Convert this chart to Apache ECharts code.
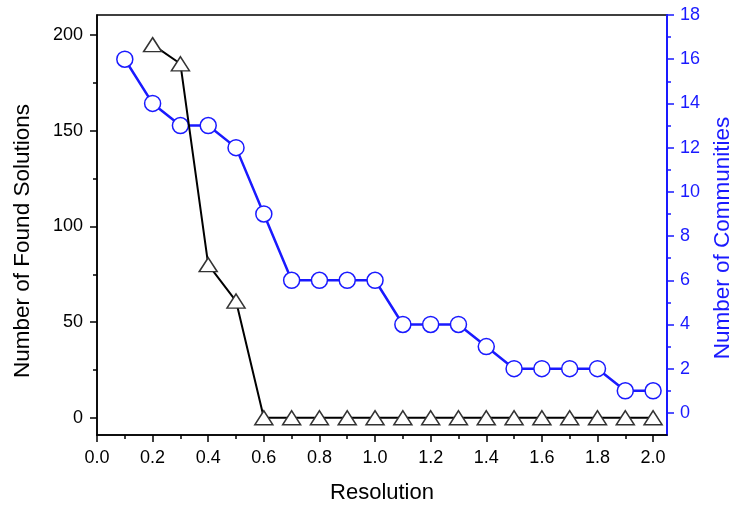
<!DOCTYPE html>
<html>
<head>
<meta charset="utf-8">
<script src="https://cdn.jsdelivr.net/npm/echarts@6/dist/echarts.min.js"></script>
<style>
  html, body { margin: 0; padding: 0; background: #fff; }
  #chart { width: 730px; height: 506px; }
</style>
</head>
<body>
<div id="chart"></div>
<script>
// resolution values on x
const resolution = [0.1, 0.2, 0.3, 0.4, 0.5, 0.6, 0.7, 0.8, 0.9, 1.0,
  1.1, 1.2, 1.3, 1.4, 1.5, 1.6, 1.7, 1.8, 1.9, 2.0];
// found solutions (left axis), no point at 0.1
const solutions = [null, 195, 185, 80, 61, 0, 0, 0, 0, 0,
  0, 0, 0, 0, 0, 0, 0, 0, 0, 0];
// communities (right axis)
const communities = [16, 14, 13, 13, 12, 9, 6, 6, 6, 6,
  4, 4, 4, 3, 2, 2, 2, 2, 1, 1];

const xTicks = [0, 0.2, 0.4, 0.6, 0.8, 1.0, 1.2, 1.4, 1.6, 1.8, 2.0];
const xMinorTicks = [0.1, 0.3, 0.5, 0.7, 0.9, 1.1, 1.3, 1.5, 1.7, 1.9];
const leftTicks = [0, 50, 100, 150, 200];
const leftMinorTicks = [25, 75, 125, 175];
const rightTicks = [0, 2, 4, 6, 8, 10, 12, 14, 16, 18];
const rightMinorTicks = [1, 3, 5, 7, 9, 11, 13, 15, 17];

const FONT = "Liberation Sans, Arial, sans-serif";
const BLUE = "#1a1aff";

const chart = echarts.init(document.getElementById("chart"));

const zip = (xs, ys) => xs.map((x, i) => [x, ys[i]]).filter(p => p[1] !== null);

const option = {
  animation: false,
  backgroundColor: "#fff",
  grid: {
    left: 97, right: 63, top: 15, bottom: 71,
    outerBoundsMode: "none",
    show: true, borderColor: "#000", borderWidth: 1.5
  },
  xAxis: [{
    type: "value", min: 0, max: 2.05,
    name: "Resolution", nameLocation: "middle", nameGap: 47,
    nameTextStyle: { fontFamily: FONT, fontSize: 22, color: "#000" },
    axisLine: { show: true, onZero: false, lineStyle: { color: "#000", width: 1.5 } },
    axisTick: { show: true, customValues: xTicks, length: 7, lineStyle: { color: "#000", width: 1.5 } },
    axisLabel: {
      customValues: xTicks, margin: 14,
      fontFamily: FONT, fontSize: 18, color: "#000",
      formatter: v => v.toFixed(1)
    },
    splitLine: { show: false }
  }, {
    type: "value", min: 0, max: 2.05, position: "bottom",
    axisLine: { show: false, onZero: false },
    axisTick: { show: true, customValues: xMinorTicks, length: 4, lineStyle: { color: "#000", width: 1.5 } },
    axisLabel: { show: false },
    splitLine: { show: false }
  }],
  yAxis: [{
    type: "value", min: -9, max: 210.5, position: "left",
    name: "Number of Found Solutions", nameLocation: "middle", nameGap: 63,
    nameTextStyle: { fontFamily: FONT, fontSize: 22.5, color: "#000", padding: [0, 32, 0, 0] },
    axisLine: { show: true, onZero: false, lineStyle: { color: "#000", width: 1.5 } },
    axisTick: { show: true, customValues: leftTicks, length: 7, lineStyle: { color: "#000", width: 1.5 } },
    axisLabel: { customValues: leftTicks, margin: 14, fontFamily: FONT, fontSize: 18, color: "#000" },
    splitLine: { show: false }
  }, {
    type: "value", min: -1, max: 18, position: "right",
    name: "Number of Communities", nameLocation: "middle", nameGap: 43,
    nameTextStyle: { fontFamily: FONT, fontSize: 22.5, color: BLUE, padding: [0, 26, 0, 0] },
    axisLine: { show: true, onZero: false, lineStyle: { color: BLUE, width: 2 } },
    axisTick: { show: true, customValues: rightTicks, length: 7, lineStyle: { color: BLUE, width: 1.5 } },
    axisLabel: { customValues: rightTicks, margin: 13, fontFamily: FONT, fontSize: 18, color: BLUE },
    splitLine: { show: false }
  }, {
    type: "value", min: -9, max: 210.5, position: "left",
    axisLine: { show: false, onZero: false },
    axisTick: { show: true, customValues: leftMinorTicks, length: 4, lineStyle: { color: "#000", width: 1.5 } },
    axisLabel: { show: false },
    splitLine: { show: false }
  }, {
    type: "value", min: -1, max: 18, position: "right",
    axisLine: { show: false, onZero: false },
    axisTick: { show: true, customValues: rightMinorTicks, length: 4, lineStyle: { color: BLUE, width: 1.5 } },
    axisLabel: { show: false },
    splitLine: { show: false }
  }],
  series: [{
    type: "line",
    name: "Communities",
    xAxisIndex: 0, yAxisIndex: 1,
    data: zip(resolution, communities),
    symbol: "circle", symbolSize: 16,
    itemStyle: { color: "#fff", borderColor: BLUE, borderWidth: 1.5 },
    lineStyle: { color: BLUE, width: 2.5 },
    z: 2
  }, {
    type: "line",
    name: "Solutions",
    xAxisIndex: 0, yAxisIndex: 0,
    data: zip(resolution, solutions),
    symbol: "triangle", symbolSize: [18, 14],
    itemStyle: { color: "#fff", borderColor: "#333", borderWidth: 1.5 },
    lineStyle: { color: "#000", width: 2 },
    z: 3
  }]
};

chart.setOption(option);
</script>
</body>
</html>
